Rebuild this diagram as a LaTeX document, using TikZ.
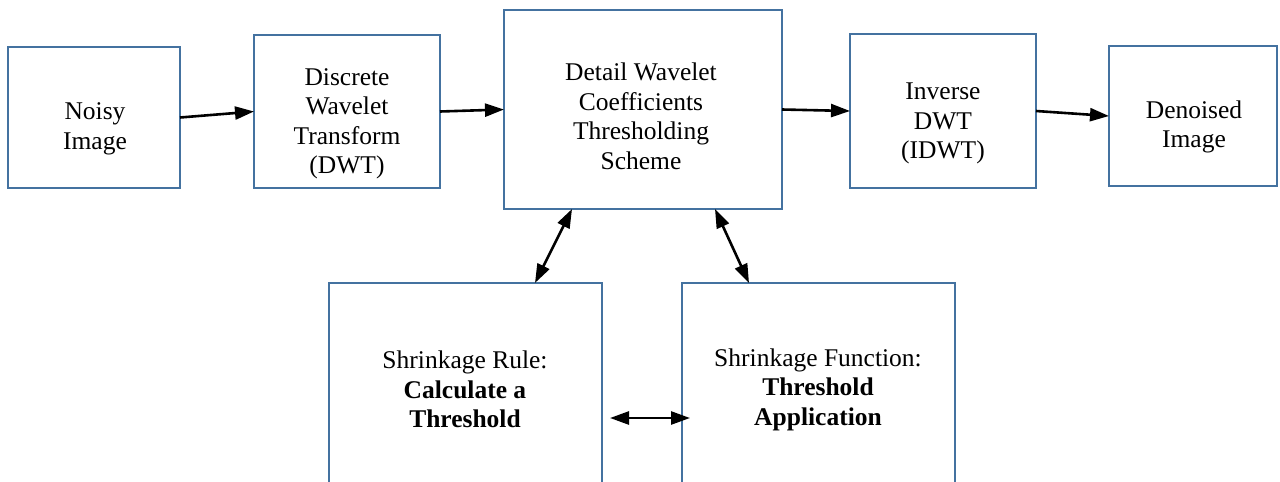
\documentclass[tikz,border=0pt]{standalone}
\usepackage{fontspec}
\setmainfont{Liberation Serif}
\usetikzlibrary{arrows.meta,calc}
\definecolor{boxblue}{RGB}{68,114,160}
\tikzset{
  box/.style={draw=boxblue, line width=2.8pt, fill=white, inner sep=0pt, outer sep=0pt},
  lbl/.style={align=center, inner sep=0pt, font=\fontsize{25.5}{29.5}\selectfont},
  arr/.style={line width=2.6pt, -{Triangle[length=19pt,width=13pt]}},
  darr/.style={line width=2.6pt, {Triangle[length=19pt,width=13pt]}-{Triangle[length=19pt,width=13pt]}}
}
\begin{document}
\begin{tikzpicture}[x=1pt,y=-1pt]
\useasboundingbox (0,0) rectangle (1280,482);
\begin{scope}
\clip (0,0) rectangle (1280,482);
% boxes
\node[box, minimum width=172pt, minimum height=141pt] (noisy) at (94,117.5) {};
\node[box, minimum width=186pt, minimum height=153pt] (dwt) at (347,111.5) {};
\node[box, minimum width=278pt, minimum height=199pt] (detail) at (643,109.5) {};
\node[box, minimum width=186pt, minimum height=154pt] (idwt) at (943,111) {};
\node[box, minimum width=168pt, minimum height=140pt] (den) at (1193,116) {};
\node[box, minimum width=273pt, minimum height=217pt] (rule) at (465.5,391.5) {};
\node[box, minimum width=273pt, minimum height=217pt] (func) at (818.5,391.5) {};
% texts
\node[lbl] (tnoisy) at (95,129) {Noisy\\Image};
\node[lbl] (tdwt) at (347,124) {Discrete\\Wavelet\\Transform\\(DWT)};
\node[lbl] (tdetail) at (641,116.5) {Detail Wavelet\\Coefficients\\Thresholding\\Scheme};
\node[lbl] (tidwt) at (943,123.5) {Inverse\\DWT\\(IDWT)};
\node[lbl] (tden) at (1194,127) {Denoised\\Image};
\node[lbl] (trule) at (465,389.5) {Shrinkage Rule:\\\textbf{Calculate a}\\\textbf{Threshold}};
\node[lbl] (tfunc) at (818,389.5) {Shrinkage Function:\\\textbf{Threshold}\\\textbf{Application}};
% connectors
\draw[arr] (noisy.east) -- (dwt.west);
\draw[arr] (dwt.east) -- (detail.west);
\draw[arr] (detail.east) -- (idwt.west);
\draw[arr] (idwt.east) -- (den.west);
\coordinate (d1) at ($(detail.south west)+(68,0)$);
\coordinate (r1) at ($(rule.north west)+(206,0)$);
\coordinate (d2) at ($(detail.south west)+(211,0)$);
\coordinate (f1) at ($(func.north west)+(67,0)$);
\draw[darr] (d1) -- (r1);
\draw[darr] (d2) -- (f1);
\coordinate (h1) at ($(rule.east)+(8,26.5)$);
\coordinate (h2) at ($(func.west)+(8,26.5)$);
\draw[darr] (h1) -- (h2);
\end{scope}
\end{tikzpicture}
\end{document}
